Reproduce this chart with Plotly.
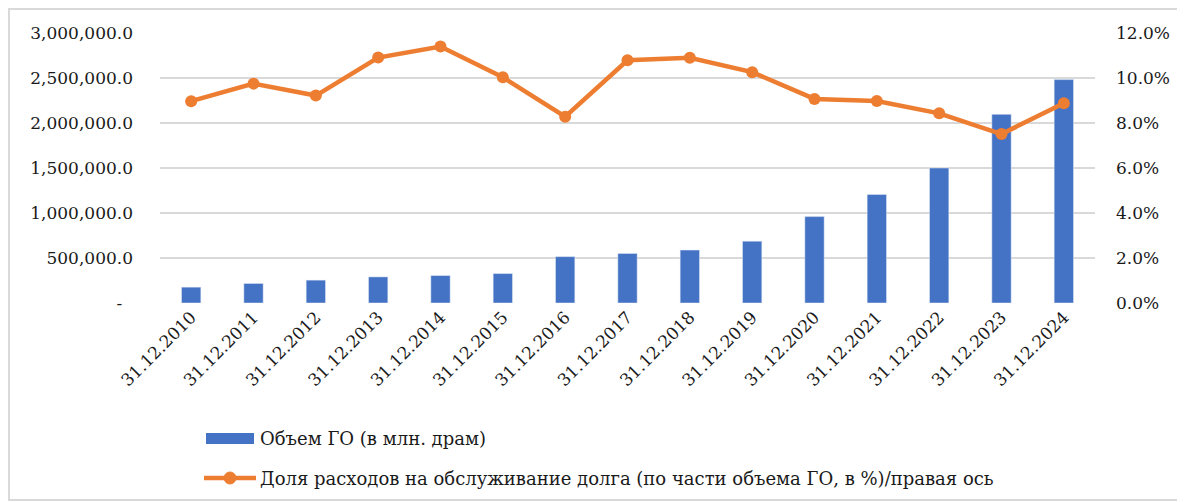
import plotly.graph_objects as go

# Данные
dates = ["31.12.2010", "31.12.2011", "31.12.2012", "31.12.2013", "31.12.2014",
         "31.12.2015", "31.12.2016", "31.12.2017", "31.12.2018", "31.12.2019",
         "31.12.2020", "31.12.2021", "31.12.2022", "31.12.2023", "31.12.2024"]
debt_volume = [176000, 217000, 254000, 290000, 305000, 327000, 515000, 551000,
               588000, 687000, 960000, 1206000, 1500000, 2096000, 2482000]
service_share = [8.97, 9.75, 9.22, 10.91, 11.40, 10.03, 8.28, 10.79,
                 10.90, 10.26, 9.07, 8.98, 8.43, 7.51, 8.88]

left_ticks = [0, 500000, 1000000, 1500000, 2000000, 2500000, 3000000]
left_ticktext = ["-\u00a0\u00a0", "500,000.0", "1,000,000.0", "1,500,000.0",
                 "2,000,000.0", "2,500,000.0", "3,000,000.0"]
right_ticks = [0, 2, 4, 6, 8, 10, 12]
right_ticktext = ["0.0%", "2.0%", "4.0%", "6.0%", "8.0%", "10.0%", "12.0%"]

bar_name = "Объем ГО (в млн. драм)"
line_name = "Доля расходов на обслуживание долга (по части объема ГО, в %)/правая ось"

BLUE = "#4472C4"
ORANGE = "#ED7D31"
GRID = "#D9D9D9"

# страница добавляет отступ body 8px, поэтому фигура чуть меньше окна
OFF = 8
W, H = 1185 - OFF, 502 - OFF
L, R, T, B = 160 - OFF, 90, 33 - OFF, 199
FONT = "DejaVu Serif"


def px_x(x):
    # координата пикселя страницы -> paper
    return (x - OFF - L) / (W - L - R)


def px_y(y):
    return (H - B - (y - OFF)) / (H - T - B)


fig = go.Figure()

fig.add_trace(go.Bar(
    x=dates, y=debt_volume,
    name=bar_name,
    marker_color=BLUE,
))

fig.add_trace(go.Scatter(
    x=dates, y=service_share,
    name=line_name,
    mode="lines+markers",
    line=dict(color=ORANGE, width=4.5),
    marker=dict(color=ORANGE, size=12),
    yaxis="y2",
))

# Легенда вручную (как в Excel: широкий прямоугольник и линия с маркером)
legend_shapes = [
    dict(type="rect", xref="paper", yref="paper",
         x0=px_x(206), x1=px_x(254), y0=px_y(444), y1=px_y(433),
         fillcolor=BLUE, line=dict(width=0)),
    dict(type="line", xref="paper", yref="paper",
         x0=px_x(204), x1=px_x(256), y0=px_y(478), y1=px_y(478),
         line=dict(color=ORANGE, width=4.5)),
    dict(type="circle", xref="paper", yref="paper",
         x0=px_x(224), x1=px_x(236), y0=px_y(484), y1=px_y(472),
         fillcolor=ORANGE, line=dict(color=ORANGE, width=1)),
    # рамка
    dict(type="rect", xref="paper", yref="paper",
         x0=px_x(9), x1=px_x(1180), y0=px_y(500), y1=px_y(9),
         line=dict(color=GRID, width=2), layer="below"),
]

legend_labels = [
    dict(text=bar_name, x=px_x(258), y=px_y(439)),
    dict(text=line_name, x=px_x(258), y=px_y(478)),
]

fig.update_layout(
    width=W, height=H,
    margin=dict(l=L, r=R, t=T, b=B),
    paper_bgcolor="white",
    plot_bgcolor="white",
    font=dict(family=FONT, size=17, color="#1a1a1a"),
    bargap=0.69,
    showlegend=False,
    xaxis=dict(
        type="category",
        range=[-0.5, len(dates) - 0.5],
        tickangle=-45,
        showgrid=False,
        showline=False,
        ticks="",
        automargin=False,
        tickfont=dict(size=17),
    ),
    yaxis=dict(
        range=[0, 3000000],
        tickvals=left_ticks,
        ticktext=left_ticktext,
        showgrid=True,
        gridcolor=GRID,
        gridwidth=2,
        zeroline=False,
        showline=False,
        automargin=False,
        ticklabelstandoff=26,
    ),
    yaxis2=dict(
        overlaying="y",
        side="right",
        range=[0, 12],
        tickvals=right_ticks,
        ticktext=right_ticktext,
        showgrid=False,
        zeroline=False,
        showline=False,
        automargin=False,
        ticklabelstandoff=20,
    ),
    shapes=legend_shapes,
    annotations=[
        dict(text=a["text"], x=a["x"], y=a["y"], xref="paper", yref="paper",
             xanchor="left", yanchor="middle", showarrow=False,
             font=dict(size=18))
        for a in legend_labels
    ],
)

fig.write_html("out.html")
